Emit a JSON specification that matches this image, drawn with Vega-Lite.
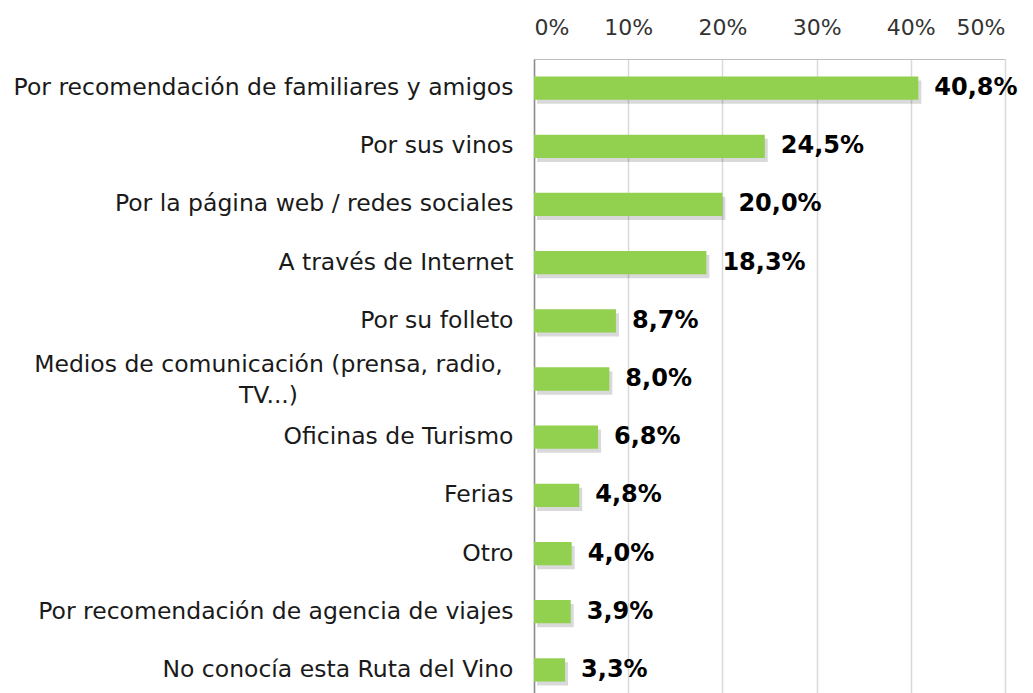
{
  "$schema": "https://vega.github.io/schema/vega-lite/v6.json",
  "autosize": {"type": "none"},
  "width": 471,
  "height": 640,
  "padding": {"left": 534, "top": 59, "right": 28, "bottom": 0},
  "background": "white",
  "data": {"values": [
    {"cat": "Por recomendación de familiares y amigos", "v": 40.8, "lbl": "40,8%"},
    {"cat": "Por sus vinos", "v": 24.5, "lbl": "24,5%"},
    {"cat": "Por la página web / redes sociales", "v": 20.0, "lbl": "20,0%"},
    {"cat": "A través de Internet\u00a0", "v": 18.3, "lbl": "18,3%"},
    {"cat": "Por su folleto\u00a0", "v": 8.7, "lbl": "8,7%"},
    {"cat": "Medios de comunicación (prensa, radio, TV...)", "v": 8.0, "lbl": "8,0%"},
    {"cat": "Oficinas de Turismo\u00a0", "v": 6.8, "lbl": "6,8%"},
    {"cat": "Ferias", "v": 4.8, "lbl": "4,8%"},
    {"cat": "Otro\u00a0", "v": 4.0, "lbl": "4,0%"},
    {"cat": "Por recomendación de agencia de viajes", "v": 3.9, "lbl": "3,9%"},
    {"cat": "No conocía esta Ruta del Vino", "v": 3.3, "lbl": "3,3%"}
  ]},
  "encoding": {
    "y": {
      "field": "cat", "type": "nominal", "sort": null,
      "scale": {"paddingInner": 0.6, "paddingOuter": 0.3},
      "axis": {
        "title": null, "ticks": false, "domainColor": "#8c8c8c", "domainWidth": 1.5,
        "labelFont": "DejaVu Sans", "labelFontSize": 23.5, "labelColor": "#1a1a1a",
        "labelPadding": {"condition": {"test": "indexof(datum.value, 'Medios') == 0", "value": 266}, "value": 21},
        "labelAlign": {"condition": {"test": "indexof(datum.value, 'Medios') == 0", "value": "center"}, "value": "right"},
        "labelOffset": {"condition": {"test": "indexof(datum.value, 'Medios') == 0", "value": -14}, "value": 0},
        "labelLimit": 600, "labelLineHeight": 31,
        "labelExpr": "indexof(datum.label, 'Medios') == 0 ? ['Medios de comunicación (prensa, radio,', 'TV...)'] : datum.label"
      }
    }
  },
  "layer": [
    {
      "mark": {"type": "bar", "color": "#000000", "opacity": 0.15, "xOffset": 3, "yOffset": 4, "x2Offset": 3},
      "encoding": {
        "x": {"field": "v", "type": "quantitative"}
      }
    },
    {
      "mark": {"type": "bar", "color": "#92D050"},
      "encoding": {
        "x": {
          "field": "v", "type": "quantitative",
          "scale": {"domain": [0, 50], "nice": false},
          "axis": {
            "orient": "top", "title": null, "values": [0, 10, 20, 30, 40, 50],
            "labelExpr": "datum.value + '%'", "ticks": false,
            "labelFont": "DejaVu Sans", "labelFontSize": 22, "labelColor": "#333333", "labelPadding": 20,
            "domainColor": "#bfbfbf", "gridColor": "#d9d9d9", "grid": true, "gridWidth": 1.5
          }
        }
      }
    },
    {
      "mark": {"type": "text", "align": "left", "dx": 16, "font": "DejaVu Sans", "fontSize": 24, "fontWeight": "bold", "color": "#000000"},
      "encoding": {
        "x": {"field": "v", "type": "quantitative"},
        "text": {"field": "lbl"}
      }
    }
  ],
  "config": {"view": {"stroke": null}}
}
